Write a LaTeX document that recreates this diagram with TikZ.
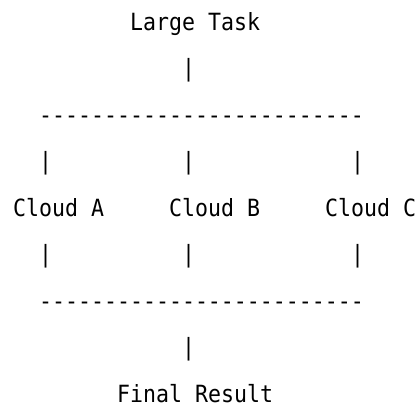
\documentclass[tikz,border=0pt]{standalone}
\usepackage{fontspec}
\setmonofont[FakeStretch=0.91]{DejaVu Sans Mono}

\begin{document}
\begin{tikzpicture}[x=1pt,y=-1pt]
%define
\tikzstyle{ascii} = [inner sep=0pt, anchor=base west, text=black, font=\ttfamily\fontsize{23.7}{28}\selectfont]

\useasboundingbox (0,0) rectangle (419,410);

\node[ascii](task) at (130,30){Large Task};
\node[ascii](bar_Top) at (182,76.5){|};
\node[ascii](line_Split) at (39,123){-------------------------};

\node[ascii](bar_SplitA) at (39,169.5){|};
\node[ascii](bar_SplitB) at (182,169.5){|};
\node[ascii](bar_SplitC) at (351,169.5){|};

\node[ascii](cloud_A) at (13,216){Cloud A};
\node[ascii](cloud_B) at (169,216){Cloud B};
\node[ascii](cloud_C) at (325,216){Cloud C};

\node[ascii](bar_JoinA) at (39,262.5){|};
\node[ascii](bar_JoinB) at (182,262.5){|};
\node[ascii](bar_JoinC) at (351,262.5){|};

\node[ascii](line_Join) at (39,309){-------------------------};
\node[ascii](bar_Bottom) at (182,355.5){|};
\node[ascii](result) at (117,402){Final Result};

\end{tikzpicture}
\end{document}
